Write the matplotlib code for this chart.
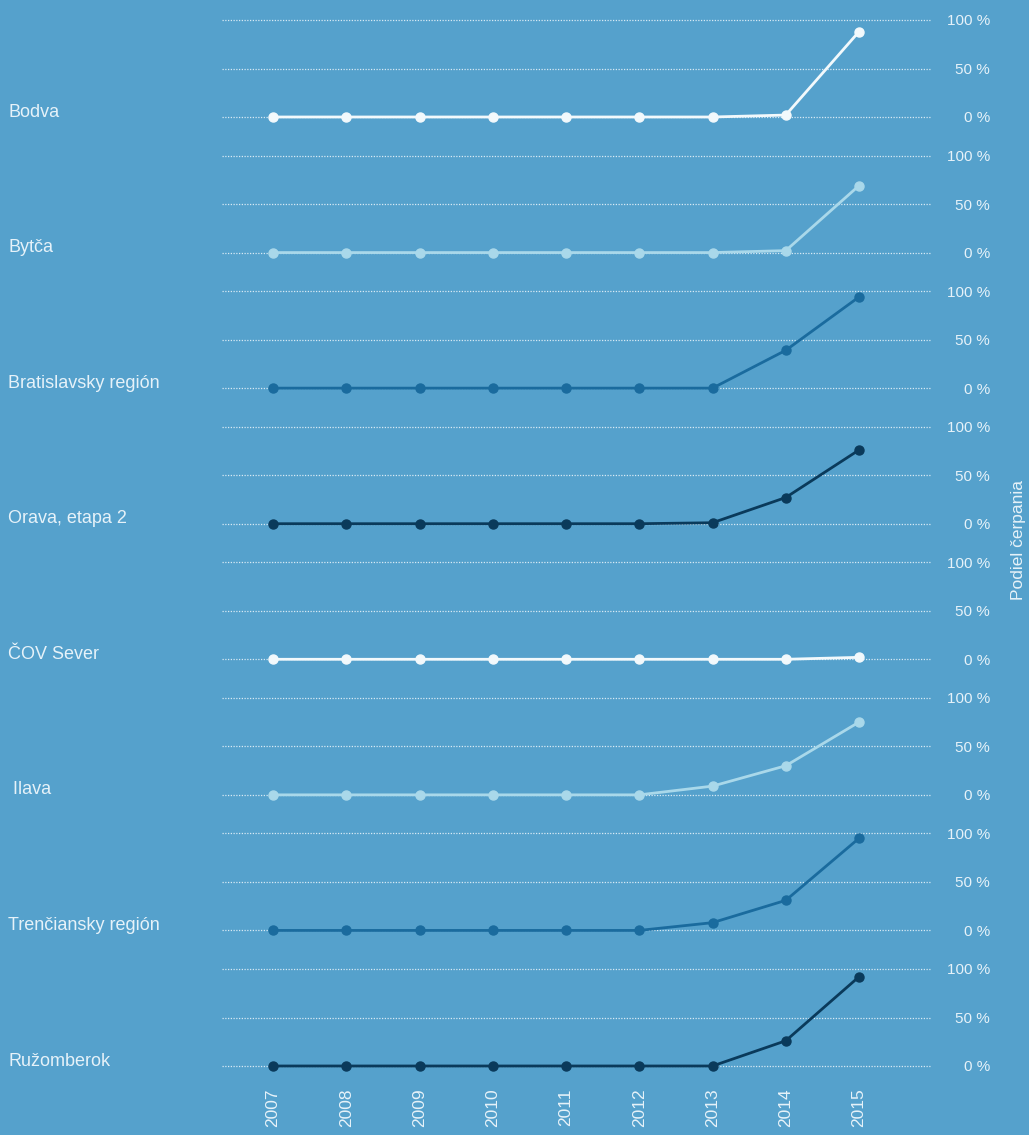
import matplotlib
matplotlib.use("Agg")
import matplotlib.pyplot as plt
from matplotlib.transforms import blended_transform_factory

years = [2007, 2008, 2009, 2010, 2011, 2012, 2013, 2014, 2015]
names = ["Bodva", "Bytča", "Bratislavsky región", "Orava, etapa 2",
         "ČOV Sever", " Ilava", "Trenčiansky región", "Ružomberok"]

bodva = [0, 0, 0, 0, 0, 0, 0, 2, 88]
bytca = [0, 0, 0, 0, 0, 0, 0, 2, 69]
bratislava = [0, 0, 0, 0, 0, 0, 0, 39, 94]
orava = [0, 0, 0, 0, 0, 0, 1, 27, 76]
cov_sever = [0, 0, 0, 0, 0, 0, 0, 0, 2]
ilava = [0, 0, 0, 0, 0, 0, 9, 30, 75]
trencin = [0, 0, 0, 0, 0, 0, 8, 31, 95]
ruzomberok = [0, 0, 0, 0, 0, 0, 0, 26, 92]
series = [bodva, bytca, bratislava, orava, cov_sever, ilava, trencin, ruzomberok]

ticks = [0, 50, 100]
tick_labels = ["0 %", "50 %", "100 %"]

BG = "#55a1cc"
TXT = "#e6f2f9"
colors = ["#f2f9fc", "#a9d8ea", "#1a6b9e", "#0a3a5b"]

plt.rcParams['font.family'] = ['Liberation Sans', 'DejaVu Sans']

W, H = 1029, 1135
fig = plt.figure(figsize=(W / 100, H / 100), dpi=100, facecolor=BG)

x_left, x_right = 222, 930
xmin = 2007 - 51 / 73.25
xmax = xmin + (x_right - x_left) / 73.25
panel_h = 97
zero0 = 117
step = (1066 - 117) / 7

for i, (name, vals) in enumerate(zip(names, series)):
    y0 = zero0 + i * step
    ax = fig.add_axes([x_left / W, 1 - y0 / H, (x_right - x_left) / W, panel_h / H])
    ax.set_facecolor("none")
    ax.set_xlim(xmin, xmax)
    ax.set_ylim(0, 100)
    for s in ax.spines.values():
        s.set_visible(False)
    for t in ticks:
        ax.axhline(t, color=TXT, lw=0.9, ls=(0, (1, 1.2)), alpha=0.9, zorder=1,
                   clip_on=False)
    c = colors[i % 4]
    ax.plot(years, vals, color=c, lw=2.0, marker="o", ms=6.5, clip_on=False, zorder=3)
    ax.set_yticks([])
    trans = blended_transform_factory(ax.transAxes, ax.transData)
    for t, lab in zip(ticks, tick_labels):
        ax.text(1 + 60 / (x_right - x_left), t - 1.5, lab, transform=trans, ha="right",
                va="center", color=TXT, fontsize=11)
    fig.text(8 / W, 1 - (y0 - 5) / H, name,
             ha="left", va="center", color=TXT, fontsize=13)
    if i == len(names) - 1:
        ax.set_xticks(years)
        ax.set_xticklabels([str(y) for y in years], rotation=90, color=TXT, fontsize=12.5)
        ax.tick_params(axis="x", length=0, pad=16)
    else:
        ax.set_xticks([])

fig.text(1018 / W, 1 - 540 / H, "Podiel čerpania", rotation=90, ha="center",
         va="center", color=TXT, fontsize=12.5)

fig.savefig("out.png", dpi=100, facecolor=BG)
